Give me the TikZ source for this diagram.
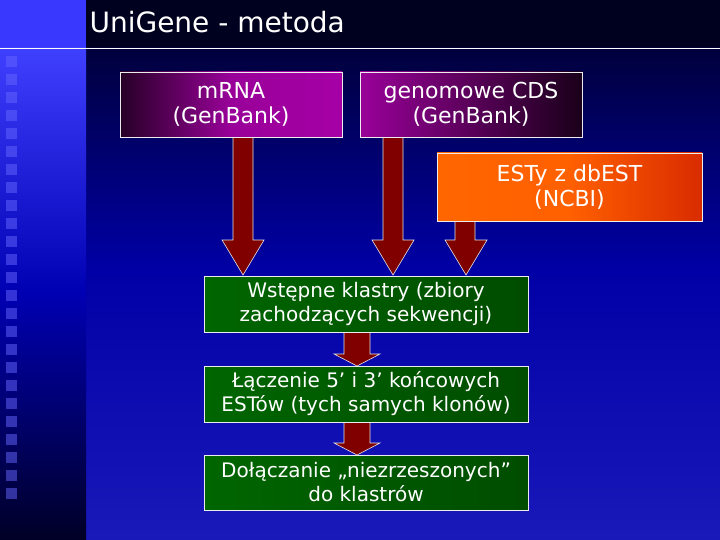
\documentclass[tikz,border=0pt]{standalone}
\usepackage{fontspec}
\setmainfont{DejaVu Sans}
\usetikzlibrary{shadings}
\begin{document}
\begin{tikzpicture}[x=1pt,y=-1pt,
 box/.style={draw=white!85!gray,line width=0.8pt,text=white,align=center,font=\fontsize{22}{25}\selectfont,inner sep=0pt},
 gbox/.style={box,minimum width=324,left color=green!40!black,right color=black!70!green,middle color=green!35!black,font=\fontsize{20}{24}\selectfont},
 arr/.style={fill=red!50!black,draw=white!80!gray,line width=0.6pt}]
\useasboundingbox (0,0) rectangle (720,540);
\shade[top color=black!85!blue,bottom color=blue!70!black!90!white,middle color=blue!65!black] (86,0) rectangle (720,540);
\fill[black!88!blue] (86,0) rectangle (720,47);
\shade[top color=blue!75!white,bottom color=black!85!blue,middle color=blue!70!black] (0,47) rectangle (86,540);
\fill[blue!78!white] (0,0) rectangle (86,47);
\foreach \i in {0,...,24} \fill[blue!60!white,opacity=0.5] (6,{56+\i*18}) rectangle (17,{67+\i*18});
\draw[white,line width=0.8pt] (0,48) -- (720,48);
\node[anchor=west,text=white,font=\fontsize{28}{32}\selectfont] (t) at (86,22) {UniGene - metoda};
% arrows
\path[arr] (233,137) -- (253,137) -- (253,240) -- (264,240) -- (243,275) -- (222,240) -- (233,240) -- cycle;
\path[arr] (383,137) -- (403,137) -- (403,240) -- (414,240) -- (393,275) -- (372,240) -- (383,240) -- cycle;
\path[arr] (455,221) -- (475,221) -- (475,240) -- (487,240) -- (466,275) -- (445,240) -- (455,240) -- cycle;
\path[arr] (344,332) -- (370,332) -- (370,354) -- (380,354) -- (357,366) -- (334,354) -- (344,354) -- cycle;
\path[arr] (344,422) -- (370,422) -- (370,443) -- (380,443) -- (357,455) -- (334,443) -- (344,443) -- cycle;
% boxes
\node[box,minimum width=222,minimum height=65,left color=black!70!violet,right color=violet!70!magenta,middle color=violet!80!magenta] (m) at (231,104.5) {mRNA\\(GenBank)};
\node[box,minimum width=222,minimum height=65,left color=violet!80!magenta,right color=black!80!violet] (c) at (471,104.5) {genomowe CDS\\(GenBank)};
\node[box,minimum width=265,minimum height=68,left color=orange!80!red,right color=red!60!orange!85!black,middle color=orange!75!red] (e) at (569.5,187) {ESTy z dbEST\\(NCBI)};
\node[gbox,minimum height=56] (w) at (366,304) {Wstępne klastry (zbiory\\zachodzących sekwencji)};
\node[gbox,minimum height=56] (l) at (366,394) {Łączenie 5’ i 3’ końcowych\\ESTów (tych samych klonów)};
\node[gbox,minimum height=55] (d) at (366,482.5) {Dołączanie „niezrzeszonych”\\do klastrów};
\end{tikzpicture}
\end{document}
